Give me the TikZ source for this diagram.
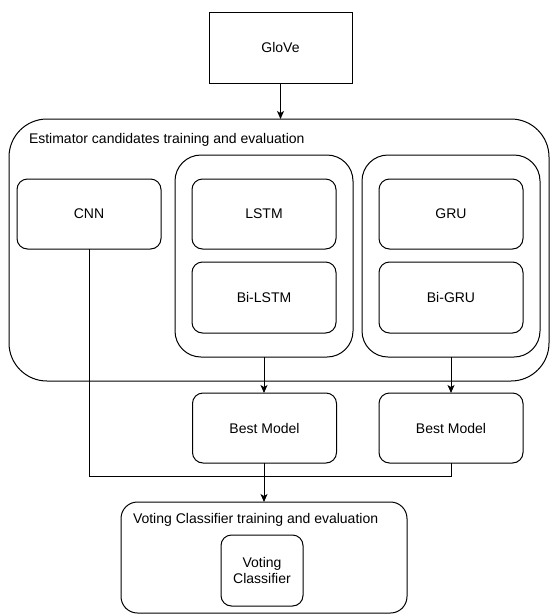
\documentclass[tikz,border=0pt]{standalone}
\usepackage{fontspec}
\setmainfont{Liberation Sans}
\usetikzlibrary{arrows.meta}

\begin{document}
\begin{tikzpicture}[x=1pt, y=-1pt,
  every node/.style={font=\fontsize{14}{16}\selectfont, inner sep=0pt, outer sep=0pt},
  base/.style={draw, line width=1pt, align=center},
  plainbox/.style={base, minimum width=143pt, minimum height=71pt},
  model/.style={base, rounded corners=10.5pt, minimum width=144pt, minimum height=70pt},
  family/.style={base, rounded corners=26pt, minimum width=178pt, minimum height=202pt},
  stage/.style={base, rounded corners=#1},
  caption/.style={anchor=base west},
  conn/.style={line width=1pt},
  flow/.style={conn, -{Stealth[length=8pt, width=7pt, inset=2pt]}}
]
\useasboundingbox (0,0) rectangle (550,614);

% input embeddings
\node[plainbox] (glove) at (280.5,47.5) {GloVe};

% candidate estimators
\node[stage=38pt, minimum width=540pt, minimum height=262pt] (est) at (279,250) {};
\node[caption] (estlabel) at (29,143) {Estimator candidates training and evaluation};

\node[model] (cnn) at (89,214) {CNN};

\node[family] (lstmgrp) at (264,256) {};
\node[model] (lstm) at (264,214) {LSTM};
\node[model, minimum height=71pt] (bilstm) at (264,297.5) {Bi-LSTM};

\node[family] (grugrp) at (451,256) {};
\node[model] (gru) at (451,214) {GRU};
\node[model, minimum height=71pt] (bigru) at (451,297.5) {Bi-GRU};

% selected models
\node[model] (best1) at (264.5,428) {Best Model};
\node[model] (best2) at (451,428) {Best Model};

% ensemble stage
\node[stage=16.5pt, minimum width=286pt, minimum height=111pt] (vote) at (264,557.5) {};
\node[caption] (votelabel) at (133,523) {Voting Classifier training and evaluation};
\node[model, rounded corners=10.5pt, minimum width=82pt, minimum height=71pt] (vc) at (262,570.5) {Voting\\Classifier};

% connectors
\coordinate (join) at (264,476);
\draw[flow] (glove.south) -- (glove.south |- est.north);
\draw[flow] (lstmgrp.south) -- (lstmgrp.south |- best1.north);
\draw[flow] (grugrp.south) -- (grugrp.south |- best2.north);
\draw[conn] (cnn.south) |- (join);
\draw[conn] (best2.south) |- (join);
\draw[flow] (best1.south -| join) -- (join |- vote.north);
\end{tikzpicture}
\end{document}
